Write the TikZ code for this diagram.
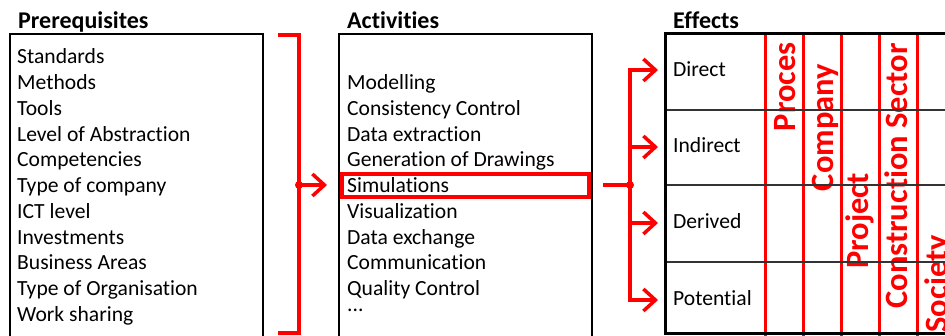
\documentclass[tikz,border=0pt]{standalone}
\usepackage{fontspec}
\setmainfont{Carlito}[Ligatures=NoCommon]
\usetikzlibrary{arrows.meta}
\definecolor{myred}{RGB}{255,0,0}
\tikzset{
  itemtext/.style={anchor=base west, inner sep=0pt, font=\fontsize{21.6}{25}\selectfont},
  titletext/.style={anchor=base west, inner sep=0pt, font=\fontsize{24}{28}\selectfont\bfseries},
  coltext/.style={anchor=base east, inner sep=0pt, rotate=90, text=myred, font=\fontsize{32.5}{36}\selectfont\bfseries},
  redline/.style={draw=myred, line width=3.5pt},
  redarrow/.style={draw=myred, line width=3.5pt, -{Straight Barb[length=12pt,width=22pt,line width=3.5pt]}},
  dotred/.style={circle, fill=myred, inner sep=0pt, minimum size=8pt},
  box/.style={draw=black, line width=2pt},
}
\begin{document}
\begin{tikzpicture}[x=1pt,y=-1pt]
\clip (0,0) rectangle (945,336);
\useasboundingbox (0,0) rectangle (945,336);
\fill[white] (0,0) rectangle (945,336);

% Titles
\node[titletext] (tp) at (18,29) {Prerequisites};
\node[titletext] (ta) at (347,29) {Activities};
\node[titletext] (te) at (673,29) {Effects};

% Prerequisites box
\draw[box] (10,34) rectangle (263,345);
\foreach \t [count=\i from 0] in {Standards,Methods,Tools,Level of Abstraction,Competencies,Type of company,ICT level,Investments,Business Areas,Type of Organisation,Work sharing}
  \node[itemtext] (p\i) at (17,64+25.75*\i) {\t};

% Activities box
\draw[box] (339,34) rectangle (592,345);
\foreach \t [count=\i from 1] in {Modelling,Consistency Control,Data extraction,Generation of Drawings,Simulations,Visualization,Data exchange,Communication,Quality Control}
  \node[itemtext] (a\i) at (347,64+25.75*\i) {\t};
\node[itemtext] (adots) at (347,312) {...};
\draw[draw=myred, line width=4pt] (342,174) rectangle (589,197);

% Bracket and arrow 1
\coordinate (b1t) at (278,35);
\coordinate (b1b) at (278,333);
\coordinate (b1d) at (299,185);
\coordinate (b1e) at (327,185);
\draw[redline] (b1t) -- (299,35) -- (299,333) -- (b1b);
\draw[redarrow] (b1d) -- (b1e);
\node[dotred] at (b1d) {};

% Arrows to effects
\coordinate (s0) at (603,185);
\coordinate (sd) at (630,185);
\draw[redline] (s0) -- (sd);
\draw[redline] (630,70) -- (630,300);
\node[dotred] at (sd) {};
\foreach \y in {70,147,223,300}
  \draw[redarrow] (628.25,\y) -- (658,\y);

% Effects table
\node[itemtext] (rd) at (673,77) {Direct};
\node[itemtext] (ri) at (673,153) {Indirect};
\node[itemtext] (rv) at (673,229) {Derived};
\node[itemtext] (rp) at (673,306) {Potential};

% column texts
\node[coltext] (cp) at (795,42) {Proces};
\node[coltext] (cc) at (833,64) {Company};
\node[coltext] (cj) at (868,173) {Project};
\node[coltext] (cs) at (907,43) {Construction Sector};
\node[coltext] (cy) at (947,235) {Society};

% red vertical lines
\foreach \x in {765,803,841,879,917}
  \draw[draw=myred, line width=3pt] (\x,34) -- (\x,336);

% horizontal lines
\foreach \y in {110,185,262}
  \draw[draw=black!80, line width=1.3pt] (665,\y) -- (950,\y);

\draw[draw=black, line width=3pt] (950,34) -- (665,34) -- (665,334) -- (950,334);
\end{tikzpicture}
\end{document}
